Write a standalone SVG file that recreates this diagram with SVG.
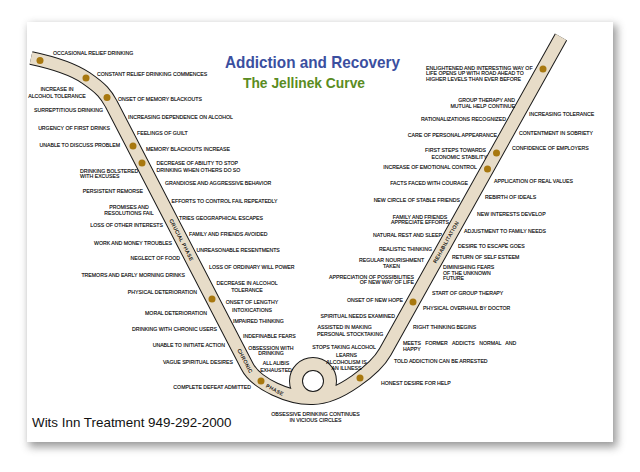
<svg xmlns="http://www.w3.org/2000/svg" width="640" height="472" viewBox="0 0 640 472">
<defs>
<filter id="sh" x="-10%" y="-10%" width="120%" height="120%"><feGaussianBlur stdDeviation="4"/></filter>
<style>
text{font-family:"Liberation Sans",Arial,sans-serif;font-size:5.2px;fill:#000;stroke:#000;stroke-width:0.12px}
.e{text-anchor:end}.m{text-anchor:middle}
.ph{font-size:5px;letter-spacing:0.5px;text-anchor:middle}
.dot{fill:#a8780f}
.title{font-weight:bold;font-size:17px;fill:#3b4fa0;stroke:none;text-anchor:middle}
.sub{font-weight:bold;font-size:14.5px;fill:#5a8c22;stroke:none;text-anchor:middle}
.foot{font-size:13.4px;fill:#111;stroke:none}
</style>
</defs>
<rect width="640" height="472" fill="#ffffff"/>
<rect x="29" y="25" width="588" height="422" fill="#777" opacity="0.75" filter="url(#sh)"/>
<rect x="27" y="22" width="586" height="420" fill="#ffffff"/>

<g id="connectors">
<path id="curve-outline" d="M31,58 C45,61 70,67 86,78 C102,89 105.8,94 111.3,104 L247,366 C256,384 290,399 313,398 A17,17 0 0 0 313,364 A17,17 0 0 0 313,398 C340,398 376.3,367.7 385.1,352 L561,37" fill="none" stroke="#1a1a1a" stroke-width="14"/>
<path id="curve-fill" d="M31,58 C45,61 70,67 86,78 C102,89 105.8,94 111.3,104 L247,366 C256,384 290,399 313,398 A17,17 0 0 0 313,364 A17,17 0 0 0 313,398 C340,398 376.3,367.7 385.1,352 L561,37" fill="none" stroke="#e7dcc8" stroke-width="12"/>
<g id="dots">
<circle class="dot" cx="40" cy="60.5" r="3.5"/>
<circle class="dot" cx="86" cy="78" r="3.5"/>
<circle class="dot" cx="107" cy="97.5" r="3.5"/>
<circle class="dot" cx="133" cy="146" r="3.5"/>
<circle class="dot" cx="142" cy="163" r="3.5"/>
<circle class="dot" cx="212" cy="299" r="3.5"/>
<circle class="dot" cx="261" cy="381" r="3.5"/>
<circle class="dot" cx="360" cy="378" r="3.5"/>
<circle class="dot" cx="413" cy="302" r="3.5"/>
<circle class="dot" cx="487.5" cy="169" r="3.5"/>
<circle class="dot" cx="496.5" cy="153" r="3.5"/>
<circle class="dot" cx="543" cy="69" r="3.5"/>
</g>
<g id="phase-labels">
<text class="ph" transform="translate(181.5,240) rotate(62.7)" y="1.8">CRUCIAL PHASE</text>
<text class="ph" transform="translate(245,361) rotate(62.7)" y="1.8">CHRONIC</text>
<text class="ph" transform="translate(275,390) rotate(28)" y="1.8">PHASE</text>
<text class="ph" transform="translate(446,242) rotate(-60.8)" y="1.8">REHABILITATION</text>
</g>
</g>

<g id="title">
<text class="title" x="312.5" y="67.5" textLength="175" lengthAdjust="spacingAndGlyphs">Addiction and Recovery</text>
<text class="sub" x="304" y="87.5" textLength="122" lengthAdjust="spacingAndGlyphs">The Jellinek Curve</text>
</g>

<g id="n-occasional"><text x="53" y="55">OCCASIONAL RELIEF DRINKING</text></g>
<g id="n-constant"><text x="97" y="76">CONSTANT RELIEF DRINKING COMMENCES</text></g>
<g id="n-tolerance-increase"><text class="m" x="57" y="91">INCREASE IN</text><text class="m" x="57" y="97.5">ALCOHOL TOLERANCE</text></g>
<g id="n-blackouts-onset"><text x="118" y="101">ONSET OF MEMORY BLACKOUTS</text></g>
<g id="n-surreptitious"><text class="e" x="103" y="112">SURREPTITIOUS DRINKING</text></g>
<g id="n-dependence"><text x="128" y="119">INCREASING DEPENDENCE ON ALCOHOL</text></g>
<g id="n-urgency"><text class="e" x="110" y="129.5">URGENCY OF FIRST DRINKS</text></g>
<g id="n-guilt"><text x="137" y="135">FEELINGS OF GUILT</text></g>
<g id="n-unable-discuss"><text class="e" x="120" y="147">UNABLE TO DISCUSS PROBLEM</text></g>
<g id="n-blackouts-increase"><text x="146" y="151">MEMORY BLACKOUTS INCREASE</text></g>
<g id="n-decrease-ability"><text x="156.5" y="164.5">DECREASE OF ABILITY TO STOP</text><text x="156.5" y="172">DRINKING WHEN OTHERS DO SO</text></g>
<g id="n-bolstered"><text x="80" y="172.5">DRINKING BOLSTERED</text><text x="80" y="178">WITH EXCUSES</text></g>
<g id="n-grandiose"><text x="165" y="185">GRANDIOSE AND AGGRESSIVE BEHAVIOR</text></g>
<g id="n-remorse"><text class="e" x="143" y="192.5">PERSISTENT REMORSE</text></g>
<g id="n-efforts"><text x="171.5" y="202.5">EFFORTS TO CONTROL FAIL REPEATEDLY</text></g>
<g id="n-promises"><text class="m" x="129" y="209">PROMISES AND</text><text class="m" x="129" y="214.5">RESOLUTIONS FAIL</text></g>
<g id="n-geographical"><text x="179" y="219.5">TRIES GEOGRAPHICAL ESCAPES</text></g>
<g id="n-other-interests"><text class="e" x="163" y="227">LOSS OF OTHER INTERESTS</text></g>
<g id="n-family-avoided"><text x="189" y="236">FAMILY AND FRIENDS AVOIDED</text></g>
<g id="n-work-money"><text class="e" x="172" y="244.5">WORK AND MONEY TROUBLES</text></g>
<g id="n-resentments"><text x="196.5" y="252">UNREASONABLE RESENTMENTS</text></g>
<g id="n-neglect-food"><text class="e" x="180" y="260">NEGLECT OF FOOD</text></g>
<g id="n-will-power"><text x="209" y="268.5">LOSS OF ORDINARY WILL POWER</text></g>
<g id="n-tremors"><text class="e" x="185" y="277">TREMORS AND EARLY MORNING DRINKS</text></g>
<g id="n-decrease-tolerance"><text class="m" x="247" y="284.5">DECREASE IN ALCOHOL</text><text class="m" x="247" y="292">TOLERANCE</text></g>
<g id="n-physical-deterioration"><text class="e" x="197" y="293.5">PHYSICAL DETERIORATION</text></g>
<g id="n-lengthy"><text class="m" x="252" y="303.5">ONSET OF LENGTHY</text><text class="m" x="252" y="311.5">INTOXICATIONS</text></g>
<g id="n-moral"><text class="e" x="207" y="314.5">MORAL DETERIORATION</text></g>
<g id="n-impaired"><text x="233" y="322.5">IMPAIRED THINKING</text></g>
<g id="n-chronic-users"><text class="e" x="217" y="331">DRINKING WITH CHRONIC USERS</text></g>
<g id="n-indefinable"><text x="243" y="337.5">INDEFINABLE FEARS</text></g>
<g id="n-initiate"><text class="e" x="225" y="347">UNABLE TO INITIATE ACTION</text></g>
<g id="n-obsession"><text class="m" x="271" y="349.5">OBSESSION WITH</text><text class="m" x="271" y="355">DRINKING</text></g>
<g id="n-vague"><text class="e" x="233" y="363.5">VAGUE SPIRITUAL DESIRES</text></g>
<g id="n-alibis"><text class="m" x="276" y="365">ALL ALIBIS</text><text class="m" x="276" y="372">EXHAUSTED</text></g>
<g id="n-defeat"><text class="e" x="251" y="389">COMPLETE DEFEAT ADMITTED</text></g>
<g id="n-vicious"><text class="m" x="315.5" y="416">OBSESSIVE DRINKING CONTINUES</text><text class="m" x="315.5" y="422">IN VICIOUS CIRCLES</text></g>

<g id="n-enlightened"><text x="426" y="69.5">ENLIGHTENED AND INTERESTING WAY OF</text><text x="426" y="75.3">LIFE OPENS UP WITH ROAD AHEAD TO</text><text x="426" y="81.2">HIGHER LEVELS THAN EVER BEFORE</text></g>
<g id="n-group-continue"><text class="e" x="515" y="102">GROUP THERAPY AND</text><text class="e" x="515" y="107.5">MUTUAL HELP CONTINUE</text></g>
<g id="n-increasing-tolerance"><text x="529" y="116">INCREASING TOLERANCE</text></g>
<g id="n-rationalizations"><text class="e" x="506" y="121">RATIONALIZATIONS RECOGNIZED</text></g>
<g id="n-contentment"><text x="519" y="135">CONTENTMENT IN SOBRIETY</text></g>
<g id="n-appearance"><text class="e" x="497" y="137">CARE OF PERSONAL APPEARANCE</text></g>
<g id="n-confidence"><text x="512" y="150">CONFIDENCE OF EMPLOYERS</text></g>
<g id="n-economic"><text class="e" x="486" y="152">FIRST STEPS TOWARDS</text><text class="e" x="487" y="158.5">ECONOMIC STABILITY</text></g>
<g id="n-emotional"><text class="e" x="477" y="169">INCREASE OF EMOTIONAL CONTROL</text></g>
<g id="n-real-values"><text x="494" y="183">APPLICATION OF REAL VALUES</text></g>
<g id="n-courage"><text class="e" x="468" y="185">FACTS FACED WITH COURAGE</text></g>
<g id="n-ideals"><text x="485" y="198.5">REBIRTH OF IDEALS</text></g>
<g id="n-stable-friends"><text class="e" x="460" y="202">NEW CIRCLE OF STABLE FRIENDS</text></g>
<g id="n-new-interests"><text x="477" y="216">NEW INTERESTS DEVELOP</text></g>
<g id="n-appreciate"><text class="m" x="420" y="218.5">FAMILY AND FRIENDS</text><text class="m" x="420" y="224">APPRECIATE EFFORTS</text></g>
<g id="n-family-needs"><text x="464" y="232.5">ADJUSTMENT TO FAMILY NEEDS</text></g>
<g id="n-rest"><text class="e" x="442" y="237">NATURAL REST AND SLEEP</text></g>
<g id="n-escape"><text x="458" y="248">DESIRE TO ESCAPE GOES</text></g>
<g id="n-realistic"><text class="e" x="432" y="251">REALISTIC THINKING</text></g>
<g id="n-self-esteem"><text x="452" y="259">RETURN OF SELF ESTEEM</text></g>
<g id="n-nourishment"><text class="m" x="391.5" y="262">REGULAR NOURISHMENT</text><text class="m" x="391.5" y="268">TAKEN</text></g>
<g id="n-fears"><text x="443" y="269">DIMINISHING FEARS</text><text x="443" y="274.5">OF THE UNKNOWN</text><text x="443" y="280">FUTURE</text></g>
<g id="n-possibilities"><text class="e" x="414" y="278.5">APPRECIATION OF POSSIBILITIES</text><text class="e" x="414" y="284">OF NEW WAY OF LIFE</text></g>
<g id="n-group-start"><text x="432" y="294.5">START OF GROUP THERAPY</text></g>
<g id="n-new-hope"><text class="e" x="403" y="302">ONSET OF NEW HOPE</text></g>
<g id="n-overhaul"><text x="423" y="310">PHYSICAL OVERHAUL BY DOCTOR</text></g>
<g id="n-spiritual"><text class="e" x="395" y="317.5">SPIRITUAL NEEDS EXAMINED</text></g>
<g id="n-right-thinking"><text x="413" y="328.5">RIGHT THINKING BEGINS</text></g>
<g id="n-stocktaking"><text x="317.5" y="329">ASSISTED IN MAKING</text><text x="317" y="335.5">PERSONAL STOCKTAKING</text></g>
<g id="n-stops"><text class="e" x="376" y="348.5">STOPS TAKING ALCOHOL</text></g>
<g id="n-meets"><text x="403" y="345" word-spacing="3">MEETS FORMER ADDICTS NORMAL AND</text><text x="403" y="351">HAPPY</text></g>
<g id="n-illness"><text class="m" x="346.5" y="357">LEARNS</text><text class="m" x="346.5" y="363.5">ALCOHOLISM IS</text><text class="m" x="346.5" y="369.5">AN ILLNESS</text></g>
<g id="n-arrested"><text x="394" y="362.5">TOLD ADDICTION CAN BE ARRESTED</text></g>
<g id="n-honest"><text x="381" y="384.5">HONEST DESIRE FOR HELP</text></g>

<g id="footer"><text class="foot" x="32" y="427">Wits Inn Treatment 949-292-2000</text></g>
</svg>
